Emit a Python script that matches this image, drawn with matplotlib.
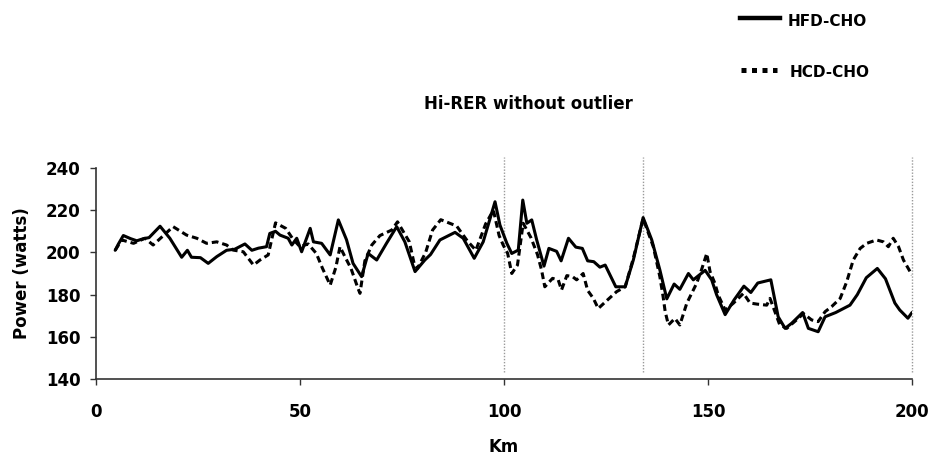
import matplotlib
matplotlib.use("Agg")
import matplotlib.pyplot as plt
from matplotlib.lines import Line2D

# HFD-CHO trial: power output along the course
km_hfd = [4.7, 5.5, 6.7, 8.5, 10, 11.6, 13, 15.7, 18.1, 21, 22.4, 23.4, 25.6, 27.5, 29.6,
          32, 34, 36.5, 38.2, 39.8, 41.8, 42.6, 44, 45.1, 47.1, 48, 49.2, 50.4, 52.5, 53.3,
          55.3, 57.4, 59.4, 61.4, 63, 65.1, 66.7, 68.8, 71.2, 73.7, 75.7, 78.2, 80.6, 82,
          84.3, 88, 90, 92.7, 94.9, 97.8, 99, 100.7, 101.9, 103.5, 104.6, 105.6, 106.8, 108,
          109.8, 111, 112.9, 114, 115.8, 117.6, 119.2, 120.5, 122, 123.5, 124.8, 127.4, 129.7,
          131.7, 134.1, 136.2, 138.2, 139.9, 141.7, 143.1, 145.2, 146.4, 149.3, 150.9, 152.1,
          154.2, 156.4, 158.8, 160.5, 162.2, 165.4, 167.2, 168.9, 170.5, 173.2, 174.6, 177,
          178.7, 181.3, 183.2, 184.8, 186.6, 188.8, 191.5, 193.5, 195.8, 197, 199, 200]
power_hfd = [201, 204, 208, 206.5, 205.5, 206.5, 207, 212.4, 206.7, 197.7, 201, 197.7, 197.5,
             194.8, 198, 201, 201.5, 204, 201, 202, 202.7, 209, 210, 208.2, 206.7, 203.5,
             206.7, 200.3, 211.4, 205, 204.3, 198.8, 215.4, 206, 194.8, 188.5, 199.5, 196.4,
             204.3, 212.2, 205, 190.9, 196.4, 199, 205.9, 209.5, 206.7, 197.2, 205, 224, 213,
             204.3, 199.5, 201.1, 224.8, 213.8, 215.4, 206, 193.5, 201.9, 200.5, 196, 206.7,
             202.5, 201.9, 196, 195.6, 193, 194, 183.7, 183.7, 196.4, 216.5, 206, 191.7, 178,
             185, 182.5, 190, 187, 191.5, 187, 180, 170.5, 177.5, 184, 181, 185.5, 187, 169.5,
             164, 166.4, 171.5, 164, 162.4, 169.5, 171.5, 173.4, 175, 180, 188, 192.4, 187.5,
             176, 172.7, 168.8, 171.5]

# HCD-CHO trial: power output along the course
km_hcd = [4.7, 6.3, 9.2, 12, 14, 18.9, 22.2, 24.7, 27.1, 29.6, 32, 33.6, 36.1, 38.6, 40.2,
          42.2, 44, 46.5, 48.2, 50, 52, 54, 55.5, 57.4, 58.8, 59.8, 61, 62.5, 64.2, 64.7,
          65.9, 67.6, 69.6, 72.5, 73.9, 76.8, 78, 78.8, 80.8, 82.5, 84.5, 88.4, 91, 93.1,
          95.5, 97.4, 98.8, 99.8, 100.9, 101.9, 103.3, 104.7, 106.6, 108.2, 109.2, 110,
          111.9, 113.3, 114.1, 115.4, 116.8, 117.8, 119.4, 120.5, 121.9, 123.1, 125.1, 127.6,
          129.7, 131.7, 134.1, 136.6, 138.2, 139, 139.5, 140.3, 141.9, 143.1, 144.8, 146,
          147.2, 148.4, 149.7, 150.5, 151.7, 152.5, 154.2, 156.2, 158.7, 160.3, 162, 164.4,
          165.2, 167.6, 169.3, 171.7, 173.4, 175.4, 177, 178.7, 180.3, 182.4, 184, 185.6,
          187.3, 188.9, 191.3, 193, 194.2, 195.4, 196.7, 197.9, 200]
power_hcd = [201, 205.9, 204.3, 206.7, 203.5, 212.2, 208.2, 206.7, 204.3, 205, 203.5, 201.1,
             200.3, 194, 196.4, 198.8, 214, 211.4, 206.5, 202.7, 204, 199.5, 192.5, 184.5, 193,
             202.7, 198, 192.4, 183, 180.6, 196, 203.5, 208, 210.6, 214.5, 205, 194.5, 192.4,
             200, 210.6, 215.5, 212.5, 205.5, 201, 213.5, 220, 208, 203.5, 199.5, 190, 194,
             213.8, 207, 199, 191.7, 183.7, 187.7, 186.9, 182.2, 189, 188.5, 187, 190, 182,
             178.2, 173.4, 177, 181.4, 183.7, 197.2, 216, 202.7, 188.5, 179, 172, 165.6, 168.7,
             165.6, 175.9, 180.6, 185.3, 191.7, 199.5, 190.9, 185.3, 179.8, 172.7, 175.9, 180.6,
             176, 175.5, 175, 178.2, 165.6, 164, 168, 171, 168, 167.2, 171.9, 174.3, 178.2,
             186.1, 196.4, 201.9, 204.3, 205.9, 205, 202.7, 206.7, 202.7, 196.4, 189.3]

# Course markers
marker_km = [100, 134, 200]

series_labels = ["HFD-CHO", "HCD-CHO"]
x_ticks = [0, 50, 100, 150, 200]
y_ticks = [140, 160, 180, 200, 220, 240]

FONT = "DejaVu Sans"
W, H = 929, 457
fig = plt.figure(figsize=(W / 100, H / 100), dpi=100)
ax = fig.add_axes([96 / W, 1 - 379 / H, (912 - 96) / W, (379 - 168) / H])

ax.plot(km_hfd, power_hfd, color="black", lw=2.2, solid_joinstyle="round",
        solid_capstyle="round")
ax.plot(km_hcd, power_hcd, color="black", lw=2.2, linestyle=(0, (2.2, 1.3)),
        dash_joinstyle="round")

for m in marker_km:
    ax.plot([m, m], [143.3, 245.2], color="#9a9a9a", lw=1.0, linestyle=(0, (1, 1.2)),
            clip_on=False, zorder=1)

ax.set_xlim(0, 200)
ax.set_ylim(140, 240)
ax.set_xticks(x_ticks)
ax.set_yticks(y_ticks)
ax.set_xticklabels([str(v) for v in x_ticks], fontfamily=FONT, fontweight="bold", fontsize=12)
ax.set_yticklabels([str(v) for v in y_ticks], fontfamily=FONT, fontweight="bold", fontsize=12)
ax.tick_params(axis="x", direction="out", length=4.5, width=1.0, color="#333333", pad=12.5)
ax.tick_params(axis="y", direction="out", length=4.5, width=1.0, color="#333333", pad=6.5)

for s in ["top", "right"]:
    ax.spines[s].set_visible(False)
for s in ["left", "bottom"]:
    ax.spines[s].set_color("#333333")
    ax.spines[s].set_linewidth(1.2)

ax.set_xlabel("Km", fontfamily=FONT, fontweight="bold", fontsize=12, va="center")
ax.xaxis.set_label_coords(0.5, (379 - 447) / (379 - 168))
ax.set_ylabel("Power (watts)", fontfamily=FONT, fontweight="bold", fontsize=12, va="center")
ax.yaxis.set_label_coords((22 - 96) / (912 - 96), 0.5)

fig.text(528 / W, 1 - 104 / H, "Hi-RER without outlier", fontfamily=FONT,
         fontweight="bold", fontsize=12, ha="center", va="center")

# Legend drawn in figure pixels
fig.add_artist(Line2D([740 / W, 780 / W], [1 - 17.5 / H, 1 - 17.5 / H], color="black",
                      lw=3.2, transform=fig.transFigure))
fig.text(788 / W, 1 - 22 / H, series_labels[0], fontfamily=FONT, fontweight="bold",
         fontsize=11, ha="left", va="center")
fig.add_artist(Line2D([741 / W, 777 / W], [1 - 69.5 / H, 1 - 69.5 / H], color="black",
                      lw=3.6, linestyle=(0, (1, 1.1)), transform=fig.transFigure))
fig.text(790 / W, 1 - 72 / H, series_labels[1], fontfamily=FONT, fontweight="bold",
         fontsize=11, ha="left", va="center")

fig.savefig("out.png", dpi=100, facecolor="white")
